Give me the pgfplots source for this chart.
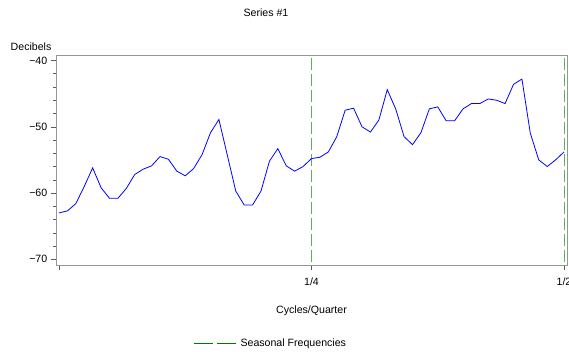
\documentclass[border=0pt]{standalone}
\usepackage{pgfplots}
\pgfplotsset{compat=1.18}
\usepackage{fontspec}
\setmainfont{Liberation Sans}
\definecolor{framegray}{RGB}{150,150,150}
\definecolor{tickgray}{RGB}{90,90,90}
\definecolor{seasgreen}{RGB}{95,175,95}
\definecolor{leggreen}{RGB}{0,120,0}
\pgfplotstableread{
i db
0 -63.0
1 -62.7
2 -61.6
3 -59.0
4 -56.2
5 -59.2
6 -60.8
7 -60.8
8 -59.3
9 -57.2
10 -56.4
11 -55.9
12 -54.5
13 -54.9
14 -56.7
15 -57.4
16 -56.3
17 -54.2
18 -50.9
19 -48.9
20 -54.3
21 -59.7
22 -61.8
23 -61.8
24 -59.7
25 -55.2
26 -53.3
27 -55.9
28 -56.7
29 -56.0
30 -54.8
31 -54.6
32 -53.8
33 -51.5
34 -47.5
35 -47.2
36 -50.0
37 -50.8
38 -49.0
39 -44.4
40 -47.3
41 -51.5
42 -52.7
43 -50.9
44 -47.3
45 -47.0
46 -49.1
47 -49.1
48 -47.3
49 -46.5
50 -46.5
51 -45.8
52 -46.0
53 -46.5
54 -43.6
55 -42.8
56 -51.0
57 -55.0
58 -56.0
59 -55.0
60 -53.8
}\spec
\begin{document}
\fontsize{10.6}{12}\selectfont
\begin{tikzpicture}[x=1pt,y=1pt]
\useasboundingbox (0,0) rectangle (569,352);
\begin{axis}[
  at={(56pt,87pt)}, anchor=south west, scale only axis,
  width=511pt, height=210pt,
  xmin=-0.356, xmax=60.356, ymin=-70.86, ymax=-39.17,
  axis line style={draw=framegray, line width=0.6pt},
  xtick={0,30,60}, xticklabels={,1/4,1/2},
  ytick={-70,-60,-50,-40}, yticklabels={−70,−60,−50,−40},
  minor y tick num=4,
  tick align=outside, xtick pos=lower, ytick pos=left,
  major tick length=5pt, minor tick length=3pt,
  tick style={draw=tickgray, line width=0.5pt},
  xticklabel style={yshift=-4pt},
  clip=true,
  legend style={at={(axis description cs:0.268,-0.3714)}, anchor=west,
    draw=none, fill=none, inner sep=0pt, nodes={inner xsep=4.5pt}},
  legend image code/.code={\draw[#1, leggreen, line width=0.9pt, dash pattern=on 19pt off 4pt] (0pt,0pt) -- (42pt,0pt);},
]
\addplot[seasgreen, line width=0.5pt, dash pattern=on 12pt off 4pt] coordinates {(30,-80) (30,-30)};
\addlegendentry{Seasonal Frequencies}
\addplot[seasgreen, line width=0.5pt, dash pattern=on 12pt off 4pt, forget plot] coordinates {(60,-80) (60,-30)};
\addplot[blue, line width=0.8pt, forget plot] table[x=i, y=db] {\spec};
\end{axis}
\node at (266,339) {Series \#1};
\node[anchor=west] at (7,305) {Decibels};
\node at (311.5,41) {Cycles/Quarter};
\end{tikzpicture}
\end{document}
